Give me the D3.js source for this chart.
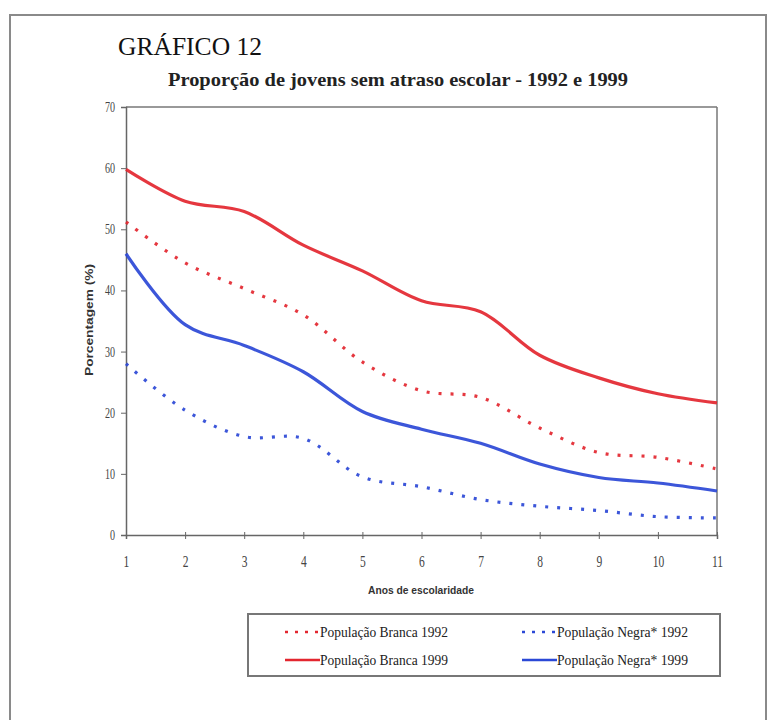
<!DOCTYPE html>
<html><head><meta charset="utf-8">
<script src="https://cdn.jsdelivr.net/npm/d3@7"></script>
<style>html,body{margin:0;padding:0;background:#fff;}</style>
</head><body>
<script>
const years = [1,2,3,4,5,6,7,8,9,10,11];
const brancaValues1992 = [51.2,44.5,40.3,36.0,28.3,23.6,22.5,17.5,13.5,12.7,10.8];
const negraValues1992  = [28.0,20.4,16.1,15.8,9.5,7.9,5.8,4.7,4.0,3.0,2.8];
const brancaValues1999 = [59.8,54.6,52.9,47.4,43.2,38.3,36.5,29.4,25.7,23.1,21.6];
const negraValues1999  = [46.0,34.4,31.0,26.7,20.2,17.3,15.0,11.6,9.4,8.5,7.2];
const yTicks = [0,10,20,30,40,50,60,70];
const seriesNames = ["População Branca 1992","População Negra* 1992","População Branca 1999","População Negra* 1999"];

const RED = "#e3262f", BLUE = "#2b48d6";
const series = [
  {name: seriesNames[0], values: brancaValues1992, color: RED, dash: "3,9"},
  {name: seriesNames[1], values: negraValues1992, color: BLUE, dash: "3,9"},
  {name: seriesNames[2], values: brancaValues1999, color: RED, dash: null},
  {name: seriesNames[3], values: negraValues1999, color: BLUE, dash: null}
];

const W = 776, H = 720;
const svg = d3.select("body").append("svg").attr("width", W).attr("height", H)
  .style("font-family", "'Liberation Serif', 'DejaVu Serif', serif");

// outer frame
svg.append("rect").attr("x", 10).attr("y", 15).attr("width", 756).attr("height", 720)
  .attr("fill", "none").attr("stroke", "#8a8a8a").attr("stroke-width", 2);

svg.append("text").attr("x", 118).attr("y", 55).attr("font-size", 26)
  .attr("textLength", 144).attr("lengthAdjust", "spacingAndGlyphs")
  .attr("fill", "#111").text("GRÁFICO 12");

svg.append("text").attr("x", 168).attr("y", 86).attr("font-size", 19).attr("font-weight", "bold")
  .attr("textLength", 460).attr("lengthAdjust", "spacingAndGlyphs")
  .attr("fill", "#222").text("Proporção de jovens sem atraso escolar - 1992 e 1999");

const x = d3.scaleLinear().domain([1, 11]).range([126, 717]);
const y = d3.scaleLinear().domain([0, 70]).range([535, 107]);

// plot frame top & right
svg.append("line").attr("x1", x(1)).attr("x2", x(11)).attr("y1", y(70)).attr("y2", y(70))
  .attr("stroke", "#777").attr("stroke-width", 1.5);
svg.append("line").attr("x1", x(11)).attr("x2", x(11)).attr("y1", y(70)).attr("y2", y(0))
  .attr("stroke", "#777").attr("stroke-width", 1.5);

// y axis
const yAxis = svg.append("g").attr("transform", `translate(${x(1)},0)`)
  .call(d3.axisLeft(y).tickValues(yTicks).tickSize(5).tickPadding(6));
yAxis.select(".domain").attr("stroke", "#666").attr("stroke-width", 1.5);
yAxis.selectAll(".tick line").attr("stroke", "#666");
yAxis.selectAll(".tick text").attr("font-family", "'Liberation Serif', serif").attr("font-size", 14)
  .attr("fill", "#444").attr("transform", "scale(0.72,1)").attr("x", -11 / 0.72);

// x axis
const xAxis = svg.append("g").attr("transform", `translate(0,${y(0)})`)
  .call(d3.axisBottom(x).tickValues(years).tickSize(4).tickPadding(17).tickFormat(d3.format("d")));
xAxis.select(".domain").attr("stroke", "#666").attr("stroke-width", 1.5);
xAxis.selectAll(".tick line").attr("stroke", "#666").attr("y1", -3);
xAxis.selectAll(".tick text").attr("font-family", "'Liberation Serif', serif").attr("font-size", 16)
  .attr("fill", "#444").attr("transform", "scale(0.72,1)");

// axis titles
svg.append("text").attr("transform", "translate(93,320) rotate(-90)").attr("text-anchor", "middle")
  .attr("font-family", "'Liberation Sans', Arial, sans-serif").attr("font-weight", "bold")
  .attr("font-size", 10).attr("textLength", 112).attr("lengthAdjust", "spacingAndGlyphs")
  .attr("fill", "#333").text("Porcentagem (%)");
svg.append("text").attr("x", 421).attr("y", 594).attr("text-anchor", "middle")
  .attr("font-family", "'Liberation Sans', Arial, sans-serif").attr("font-weight", "bold")
  .attr("font-size", 10).attr("textLength", 106).attr("lengthAdjust", "spacingAndGlyphs")
  .attr("fill", "#333").text("Anos de escolaridade");

// lines
const line = d3.line().x((d, i) => x(years[i])).y(d => y(d)).curve(d3.curveCatmullRom.alpha(0.5));
series.forEach(s => {
  svg.append("path").datum(s.values).attr("d", line)
    .attr("fill", "none").attr("stroke", s.color).attr("stroke-width", 3.2)
    .attr("stroke-dasharray", s.dash).attr("stroke-linecap", "butt").attr("opacity", 0.92);
});

// legend
svg.append("rect").attr("x", 248).attr("y", 614).attr("width", 472).attr("height", 62)
  .attr("fill", "#fff").attr("stroke", "#777").attr("stroke-width", 2);
const legendPos = [
  {lx: 285, ty: 632}, {lx: 522, ty: 632}, {lx: 285, ty: 660}, {lx: 522, ty: 660}
];
const legendWidths = [128, 131, 128, 131];
series.forEach((s, i) => {
  const p = legendPos[i];
  svg.append("line").attr("x1", p.lx).attr("x2", p.lx + 35).attr("y1", p.ty).attr("y2", p.ty)
    .attr("stroke", s.color).attr("stroke-width", 2.5).attr("stroke-dasharray", s.dash ? "3,7" : null);
  svg.append("text").attr("x", p.lx + 35).attr("y", p.ty + 5).attr("font-size", 14)
    .attr("textLength", legendWidths[i]).attr("lengthAdjust", "spacingAndGlyphs")
    .attr("fill", "#222").text(s.name);
});
</script>
</body></html>
